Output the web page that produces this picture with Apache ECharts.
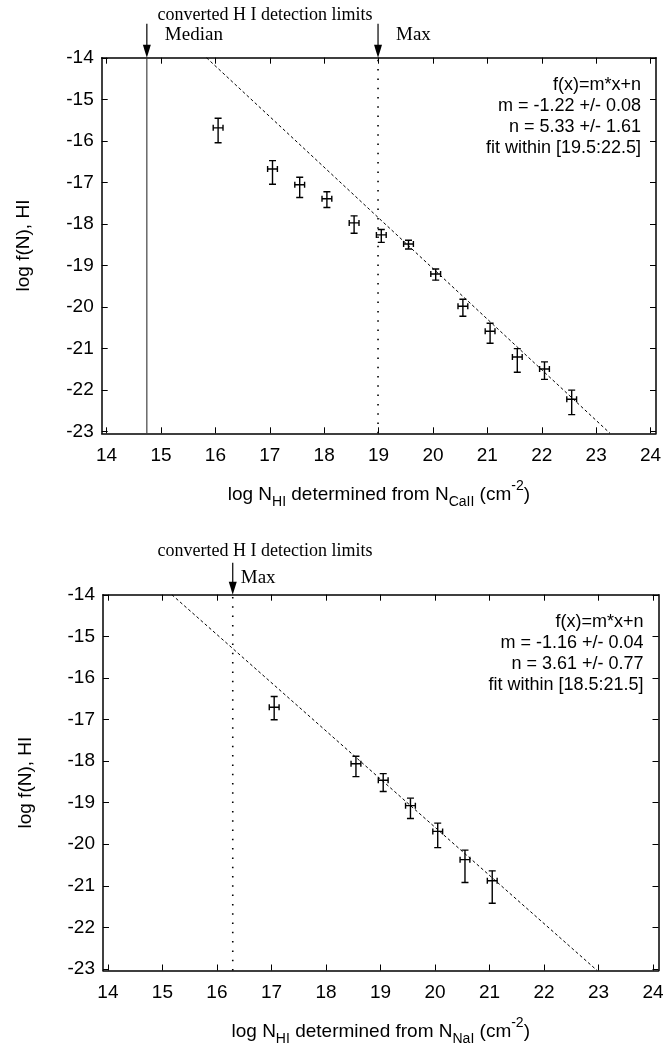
<!DOCTYPE html>
<html>
<head>
<meta charset="utf-8">
<script src="https://cdn.jsdelivr.net/npm/echarts@6/dist/echarts.min.js"></script>
<style>
html,body{margin:0;padding:0;background:#fff;}
#chart{width:670px;height:1053px;}
</style>
</head>
<body>
<div id="chart"></div>
<script>
// ---------- DATA ----------
const xTickValues = [14,15,16,17,18,19,20,21,22,23,24];
const yTickValues = [-23,-22,-21,-20,-19,-18,-17,-16,-15,-14];

// Top panel: N_HI from N_CaII
const caX    = [16.05,17.05,17.55,18.05,18.55,19.05,19.55,20.05,20.55,21.05,21.55,22.05,22.55];
const caY    = [-15.68,-16.67,-17.05,-17.39,-17.97,-18.26,-18.48,-19.20,-19.98,-20.58,-21.20,-21.49,-22.22];
const caYLo  = [-16.04,-17.04,-17.36,-17.60,-18.22,-18.44,-18.60,-19.35,-20.22,-20.87,-21.57,-21.74,-22.59];
const caYHi  = [-15.45,-16.47,-16.87,-17.22,-17.80,-18.13,-18.39,-19.08,-19.81,-20.39,-21.00,-21.32,-22.00];
const caXErr = [0.09,0.09,0.09,0.09,0.09,0.09,0.09,0.09,0.09,0.09,0.09,0.09,0.09];
const caFit  = {m: -1.22, n: 5.33};
const caFitText = ['f(x)=m*x+n','m = -1.22 +/- 0.08','n = 5.33 +/- 1.61','fit within [19.5:22.5]'];
const caLimits = [{name:'Median', x:14.74, style:'solid'}, {name:'Max', x:18.99, style:'dotted'}];

// Bottom panel: N_HI from N_NaI
const naX    = [17.05,18.55,19.05,19.55,20.05,20.55,21.05];
const naY    = [-16.70,-18.06,-18.46,-19.07,-19.69,-20.37,-20.88];
const naYLo  = [-17.00,-18.37,-18.73,-19.38,-20.08,-20.92,-21.42];
const naYHi  = [-16.44,-17.88,-18.30,-18.89,-19.49,-20.14,-20.64];
const naXErr = [0.09,0.09,0.09,0.09,0.09,0.09,0.09];
const naFit  = {m: -1.16, n: 3.61};
const naFitText = ['f(x)=m*x+n','m = -1.16 +/- 0.04','n = 3.61 +/- 0.77','fit within [18.5:21.5]'];
const naLimits = [{name:'Max', x:16.29, style:'dotted'}];

const limitsTitle = 'converted H I detection limits';

// ---------- CHART ----------
const X_MIN = 13.91, X_MAX = 24.1, Y_MIN = -23.04, Y_MAX = -13.99;
const SANS = 'Liberation Sans, Arial, sans-serif';
const SERIF = 'Liberation Serif, Times New Roman, serif';

const grids = [
  {left: 101.7, top: 57.7, width: 554.3, height: 375.6},
  {left: 103, top: 594.7, width: 555.5, height: 375.8}
];

function xAxes(gi, sub) {
  return [
    {
      type: 'value', gridIndex: gi, position: 'bottom', min: X_MIN, max: X_MAX,
      axisLine: {show: true, onZero: false, lineStyle: {color: '#000', width: 1.5}},
      axisTick: {show: true, inside: true, length: 6, customValues: xTickValues, lineStyle: {color: '#000', width: 1}},
      axisLabel: {show: true, customValues: xTickValues, color: '#000', fontFamily: SANS, fontSize: 19, margin: 13},
      splitLine: {show: false},
      name: '{n|log N}{s|HI}{n| determined from N}{s|' + sub + '}{n| (cm}{p|-2}{n|)}',
      nameLocation: 'middle', nameGap: 46,
      nameTextStyle: {
        rich: {
          n: {fontFamily: SANS, fontSize: 19, color: '#000', lineHeight: 30, verticalAlign: 'middle'},
          s: {fontFamily: SANS, fontSize: 14, color: '#000', lineHeight: 14, verticalAlign: 'bottom'},
          p: {fontFamily: SANS, fontSize: 14, color: '#000', lineHeight: 14, verticalAlign: 'top'}
        }
      }
    },
    {
      type: 'value', gridIndex: gi, position: 'top', min: X_MIN, max: X_MAX,
      axisLine: {show: true, onZero: false, lineStyle: {color: '#000', width: 1.5}},
      axisTick: {show: true, inside: true, length: 6, customValues: xTickValues, lineStyle: {color: '#000', width: 1}},
      axisLabel: {show: false}, splitLine: {show: false}
    }
  ];
}
function yAxes(gi) {
  return [
    {
      type: 'value', gridIndex: gi, position: 'left', min: Y_MIN, max: Y_MAX,
      axisLine: {show: true, onZero: false, lineStyle: {color: '#000', width: 1.5}},
      axisTick: {show: true, inside: true, length: 6, customValues: yTickValues, lineStyle: {color: '#000', width: 1}},
      axisLabel: {show: true, customValues: yTickValues, color: '#000', fontFamily: SANS, fontSize: 19, margin: 8},
      splitLine: {show: false},
      name: 'log f(N), HI', nameLocation: 'middle', nameGap: 68, nameRotate: 90,
      nameTextStyle: {fontFamily: SANS, fontSize: 19, color: '#000'}
    },
    {
      type: 'value', gridIndex: gi, position: 'right', min: Y_MIN, max: Y_MAX,
      axisLine: {show: true, onZero: false, lineStyle: {color: '#000', width: 1.5}},
      axisTick: {show: true, inside: true, length: 6, customValues: yTickValues, lineStyle: {color: '#000', width: 1}},
      axisLabel: {show: false}, splitLine: {show: false}
    }
  ];
}

function errData(xs, ys, lo, hi, xe) {
  return xs.map((x, i) => [x, ys[i], lo[i], hi[i], xe[i]]);
}
function errRender(params, api) {
  const x = api.value(0), y = api.value(1), lo = api.value(2), hi = api.value(3), xe = api.value(4);
  const pLo = api.coord([x, lo]), pHi = api.coord([x, hi]);
  const pL = api.coord([x - xe, y]), pR = api.coord([x + xe, y]);
  const cap = 3.5, hcap = 3;
  const st = {stroke: '#000', lineWidth: 1.4};
  const L = (x1, y1, x2, y2) => ({type: 'line', shape: {x1, y1, x2, y2}, style: st});
  return {type: 'group', children: [
    L(pLo[0], pLo[1], pHi[0], pHi[1]),
    L(pLo[0] - cap, pLo[1], pLo[0] + cap, pLo[1]),
    L(pHi[0] - cap, pHi[1], pHi[0] + cap, pHi[1]),
    L(pL[0], pL[1], pR[0], pR[1]),
    L(pL[0], pL[1] - hcap, pL[0], pL[1] + hcap),
    L(pR[0], pR[1] - hcap, pR[0], pR[1] + hcap)
  ]};
}

function fitLine(fit) {
  // endpoints where the fit line meets the top and bottom of the y range
  const xa = (Y_MAX - fit.n) / fit.m, xb = (Y_MIN - fit.n) / fit.m;
  return [[xa, Y_MAX], [xb, Y_MIN]];
}

function limitSeries(gi, lim, arrowLen, textDx, textDy) {
  const out = [];
  lim.forEach(l => {
    out.push({
      type: 'line', xAxisIndex: gi * 2, yAxisIndex: gi * 2, silent: true,
      data: [[l.x, Y_MIN], [l.x, Y_MAX]], symbol: 'none', z: 1,
      lineStyle: l.style === 'solid'
        ? {color: '#333', width: 1.1}
        : {color: '#000', width: 1.6, type: [1.5, 7.8], cap: 'butt'}
    });
  });
  out.push({
    type: 'custom', xAxisIndex: gi * 2, yAxisIndex: gi * 2, silent: true, clip: false,
    data: lim.map(l => [l.x, Y_MAX, l.name]),
    renderItem: function (params, api) {
      const p = api.coord([api.value(0), Y_MAX]);
      const name = lim[params.dataIndex].name;
      return {type: 'group', children: [
        {type: 'line', shape: {x1: p[0], y1: p[1] - arrowLen, x2: p[0], y2: p[1] - 10}, style: {stroke: '#000', lineWidth: 1.2}},
        {type: 'polygon', shape: {points: [[p[0] - 4, p[1] - 13], [p[0] + 4, p[1] - 13], [p[0], p[1]]]}, style: {fill: '#000'}},
        {type: 'text', x: p[0] + textDx, y: p[1] + textDy, style: {text: name, fill: '#000', font: '19px ' + SERIF, textAlign: 'left', textVerticalAlign: 'middle'}}
      ]};
    }
  });
  return out;
}

function fitTextSeries(gi, lines, topOffset) {
  return {
    type: 'custom', xAxisIndex: gi * 2, yAxisIndex: gi * 2, silent: true, clip: false,
    data: [[X_MAX, Y_MAX]],
    renderItem: function (params, api) {
      const p = api.coord([X_MAX, Y_MAX]);
      return {type: 'group', children: lines.map((t, i) => ({
        type: 'text', x: p[0] - 15, y: p[1] + topOffset + i * 21,
        style: {text: t, fill: '#000', font: '18px ' + SANS, textAlign: 'right', textVerticalAlign: 'middle'}
      }))};
    }
  };
}

const series = [];
// top panel
series.push(...limitSeries(0, caLimits, 34, 18, -23));
series.push({type: 'line', xAxisIndex: 0, yAxisIndex: 0, data: fitLine(caFit), symbol: 'none', silent: true,
  lineStyle: {color: '#000', width: 1, type: [3, 2.5]}});
series.push({type: 'custom', xAxisIndex: 0, yAxisIndex: 0, renderItem: errRender, data: errData(caX, caY, caYLo, caYHi, caXErr), clip: true});
series.push(fitTextSeries(0, caFitText, 27));
// bottom panel
series.push(...limitSeries(1, naLimits, 32, 8, -17));
series.push({type: 'line', xAxisIndex: 2, yAxisIndex: 2, data: fitLine(naFit), symbol: 'none', silent: true,
  lineStyle: {color: '#000', width: 1, type: [3, 2.5]}});
series.push({type: 'custom', xAxisIndex: 2, yAxisIndex: 2, renderItem: errRender, data: errData(naX, naY, naYLo, naYHi, naXErr), clip: true});
series.push(fitTextSeries(1, naFitText, 27));

const chart = echarts.init(document.getElementById('chart'), null, {renderer: 'canvas'});
chart.setOption({
  animation: false,
  backgroundColor: '#fff',
  title: [
    {text: limitsTitle, left: 260, top: 1, textAlign: 'center', textStyle: {fontFamily: SERIF, fontSize: 18, fontWeight: 'normal', color: '#000'}},
    {text: limitsTitle, left: 260, top: 537, textAlign: 'center', textStyle: {fontFamily: SERIF, fontSize: 18, fontWeight: 'normal', color: '#000'}}
  ],
  grid: grids,
  xAxis: [...xAxes(0, 'CaII'), ...xAxes(1, 'NaI')],
  yAxis: [...yAxes(0), ...yAxes(1)],
  series: series
});
</script>
</body>
</html>
